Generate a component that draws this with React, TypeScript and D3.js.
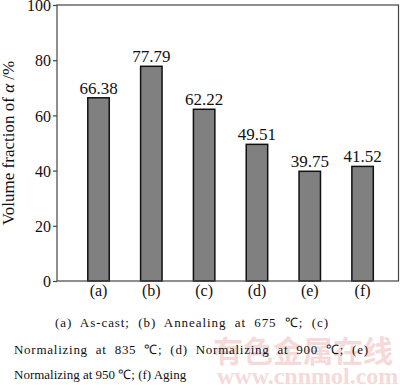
import React, { useEffect, useRef } from 'react';
import * as d3 from 'd3';

const categories = ['(a)', '(b)', '(c)', '(d)', '(e)', '(f)'];
const values = [66.38, 77.79, 62.22, 49.51, 39.75, 41.52];
const yTicks = [0, 20, 40, 60, 80, 100];
const captionLines = [
  '(a)  As-cast;  (b)  Annealing  at  675  ℃;  (c)',
  'Normalizing  at  835  ℃;  (d)  Normalizing  at  900  ℃;  (e)',
  'Normalizing at 950 ℃; (f) Aging',
];

const W = 400;
const H = 388;
const serif = '"Liberation Serif", "Times New Roman", serif';

const App: React.FC = () => {
  const svgRef = useRef<SVGSVGElement>(null);

  useEffect(() => {
    if (!svgRef.current) return;
    const svg = d3.select(svgRef.current);
    svg.selectAll('*').remove();

    const left = 57, right = 398.5, top = 5, bottom = 281;

    const x = d3.scaleBand<string>()
      .domain(categories)
      .range([left, right])
      .paddingInner(0.594)
      .paddingOuter(0.53)
      .align(0.55);

    const y = d3.scaleLinear().domain([0, 100]).range([bottom, top]);

    // watermark
    svg.append('text')
      .attr('x', 213)
      .attr('y', 362)
      .attr('font-family', '"Noto Sans CJK SC", sans-serif')
      .attr('font-weight', 'bold')
      .attr('font-size', 30)
      .attr('fill', '#f6d9d9')
      .text('有色金属在线');
    svg.append('text')
      .attr('x', 217)
      .attr('y', 384)
      .attr('font-family', serif)
      .attr('font-weight', 'bold')
      .attr('font-size', 24)
      .attr('fill', '#f6d9d9')
      .text('www.cnnmol.com');

    // bars
    svg.append('g')
      .selectAll('rect')
      .data(values)
      .join('rect')
      .attr('x', (_, i) => x(categories[i])!)
      .attr('y', d => y(d))
      .attr('width', x.bandwidth())
      .attr('height', d => bottom - y(d))
      .attr('fill', '#808080')
      .attr('stroke', '#111')
      .attr('stroke-width', 1.5);

    // value labels
    svg.append('g')
      .selectAll('text')
      .data(values)
      .join('text')
      .attr('x', (_, i) => x(categories[i])! + x.bandwidth() / 2)
      .attr('y', d => y(d) - 4)
      .attr('text-anchor', 'middle')
      .attr('font-family', serif)
      .attr('font-size', 17)
      .attr('fill', '#111')
      .text(d => d.toFixed(2));

    // frame
    svg.append('rect')
      .attr('x', left)
      .attr('y', top)
      .attr('width', right - left)
      .attr('height', bottom - top)
      .attr('fill', 'none')
      .attr('stroke', '#444')
      .attr('stroke-width', 1.2);

    // y axis
    const yAxis = svg.append('g')
      .attr('transform', `translate(${left},0)`)
      .call(d3.axisLeft(y).tickValues(yTicks).tickSize(4).tickSizeOuter(0));
    yAxis.select('.domain').remove();
    yAxis.selectAll('line').attr('stroke', '#444').attr('stroke-width', 1.2);
    yAxis.selectAll('text')
      .attr('font-family', serif)
      .attr('font-size', 16)
      .attr('fill', '#111')
      .attr('x', -6)
      .attr('dy', '0.36em');

    // x labels
    svg.append('g')
      .selectAll('text')
      .data(categories)
      .join('text')
      .attr('x', d => x(d)! + x.bandwidth() / 2)
      .attr('y', 296)
      .attr('text-anchor', 'middle')
      .attr('font-family', serif)
      .attr('font-size', 16)
      .attr('fill', '#111')
      .text(d => d);

    // y title
    const yt = svg.append('text')
      .attr('transform', `translate(14,${(top + bottom) / 2}) rotate(-90)`)
      .attr('text-anchor', 'middle')
      .attr('font-family', serif)
      .attr('font-size', 17)
      .attr('fill', '#111');
    yt.append('tspan').text('Volume fraction of ');
    yt.append('tspan').attr('font-style', 'italic').text('α');
    yt.append('tspan').text(' /%');

    // caption
    const cap = svg.append('g')
      .attr('font-family', serif)
      .attr('font-size', 13)
      .attr('fill', '#111');
    cap.append('text')
      .attr('x', 55).attr('y', 327)
      .attr('xml:space', 'preserve')
      .attr('textLength', 273)
      .attr('lengthAdjust', 'spacing')
      .text(captionLines[0]);
    cap.append('text')
      .attr('x', 14).attr('y', 354)
      .attr('xml:space', 'preserve')
      .attr('textLength', 354)
      .attr('lengthAdjust', 'spacing')
      .text(captionLines[1]);
    cap.append('text')
      .attr('x', 14).attr('y', 379)
      .text(captionLines[2]);
  }, []);

  return (
    <svg
      ref={svgRef}
      width={W}
      height={H}
      style={{ position: 'absolute', left: 0, top: 0, background: '#fff' }}
    />
  );
};

export default App;
